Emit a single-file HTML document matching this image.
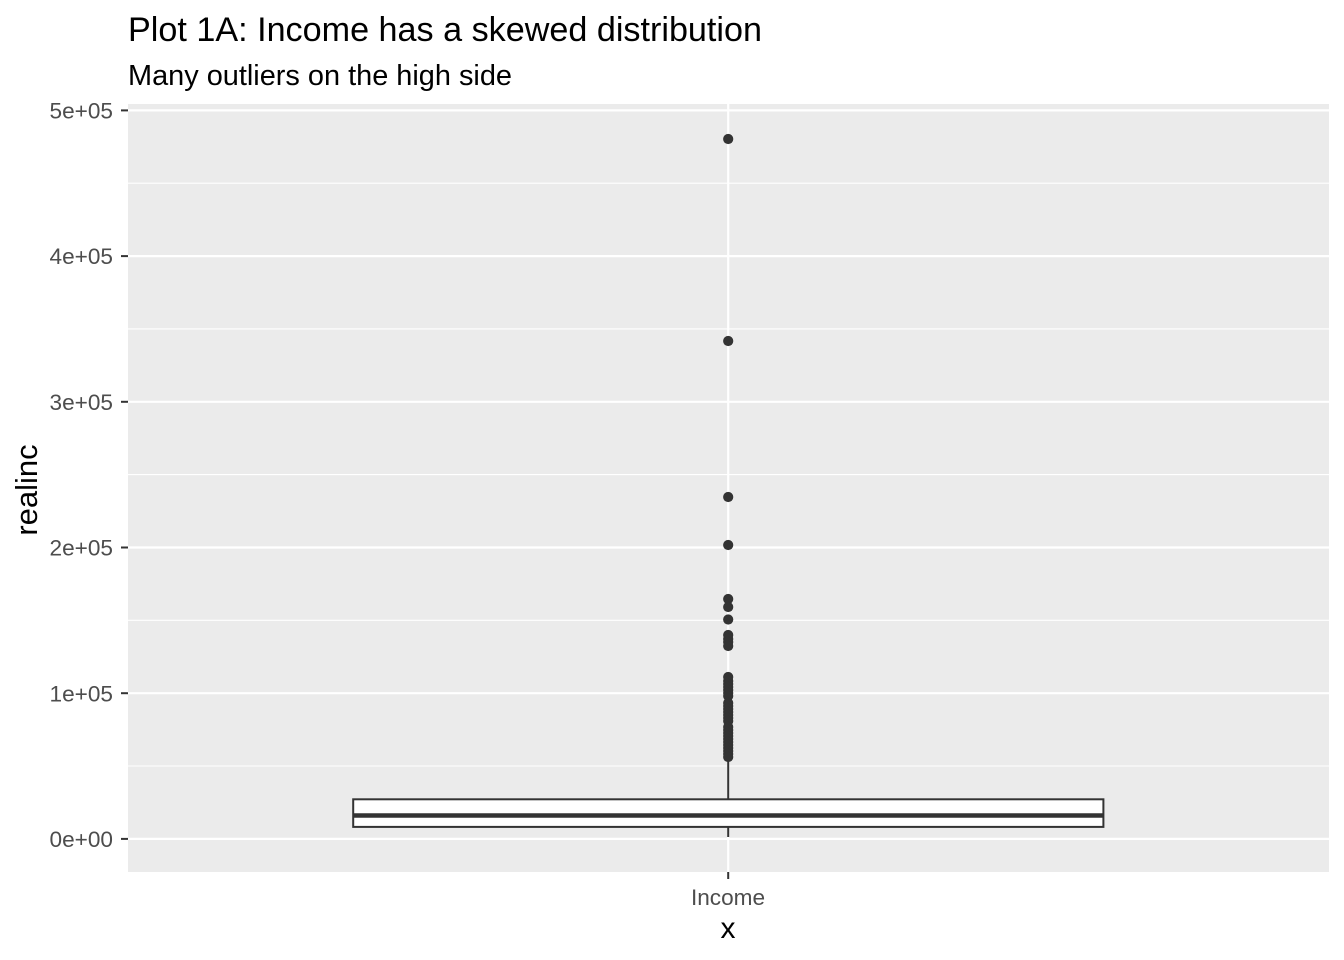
<!DOCTYPE html>
<html>
<head>
<meta charset="utf-8">
<style>
html,body{margin:0;padding:0;background:#fff;}
svg{display:block;}
text{font-family:"Liberation Sans",Arial,sans-serif;}
</style>
</head>
<body>
<svg width="1344" height="960" viewBox="0 0 1344 960" xmlns="http://www.w3.org/2000/svg">
  <rect x="0" y="0" width="1344" height="960" fill="#ffffff"/>
  <!-- titles -->
  <text x="128" y="41" font-size="34.3" fill="#000" textLength="634" lengthAdjust="spacingAndGlyphs">Plot 1A: Income has a skewed distribution</text>
  <text x="128" y="85" font-size="28.9" fill="#000" textLength="384" lengthAdjust="spacingAndGlyphs">Many outliers on the high side</text>

  <!-- panel -->
  <rect x="128" y="104" width="1201" height="768" fill="#EBEBEB"/>
  <!-- minor gridlines -->
  <g stroke="#ffffff" stroke-width="1.1">
    <line x1="128" x2="1329" y1="766" y2="766"/>
    <line x1="128" x2="1329" y1="620.3" y2="620.3"/>
    <line x1="128" x2="1329" y1="474.6" y2="474.6"/>
    <line x1="128" x2="1329" y1="328.9" y2="328.9"/>
    <line x1="128" x2="1329" y1="183.2" y2="183.2"/>
  </g>
  <!-- major gridlines -->
  <g stroke="#ffffff" stroke-width="2.2">
    <line x1="128" x2="1329" y1="838.9" y2="838.9"/>
    <line x1="128" x2="1329" y1="693.2" y2="693.2"/>
    <line x1="128" x2="1329" y1="547.5" y2="547.5"/>
    <line x1="128" x2="1329" y1="401.8" y2="401.8"/>
    <line x1="128" x2="1329" y1="256.1" y2="256.1"/>
    <line x1="128" x2="1329" y1="110.4" y2="110.4"/>
    <line x1="728.2" x2="728.2" y1="104" y2="872"/>
  </g>

  <!-- boxplot -->
  <g stroke="#333333" fill="none">
    <line x1="728.2" x2="728.2" y1="798.5" y2="757" stroke-width="2"/>
    <line x1="728.2" x2="728.2" y1="827" y2="837" stroke-width="2"/>
    <rect x="353.2" y="799.3" width="750.2" height="27.6" fill="#ffffff" stroke-width="2"/>
    <line x1="353.2" x2="1103.4" y1="815.5" y2="815.5" stroke-width="4.4"/>
  </g>
  <!-- outliers -->
  <g fill="#333333">
    <circle cx="728.2" cy="139" r="5.1"/>
    <circle cx="728.2" cy="341" r="5.1"/>
    <circle cx="728.2" cy="497" r="5.1"/>
    <circle cx="728.2" cy="545" r="5.1"/>
    <circle cx="728.2" cy="599" r="5.1"/>
    <circle cx="728.2" cy="607" r="5.1"/>
    <circle cx="728.2" cy="619.5" r="5.1"/>
    <circle cx="728.2" cy="635" r="5.1"/>
    <circle cx="728.2" cy="639" r="5.1"/>
    <circle cx="728.2" cy="642" r="5.1"/>
    <circle cx="728.2" cy="646" r="5.1"/>
    <circle cx="728.2" cy="677" r="5.1"/>
    <circle cx="728.2" cy="681" r="5.1"/>
    <circle cx="728.2" cy="684" r="5.1"/>
    <circle cx="728.2" cy="687" r="5.1"/>
    <circle cx="728.2" cy="690" r="5.1"/>
    <circle cx="728.2" cy="693" r="5.1"/>
    <circle cx="728.2" cy="696" r="5.1"/>
    <circle cx="728.2" cy="703" r="5.1"/>
    <circle cx="728.2" cy="706" r="5.1"/>
    <circle cx="728.2" cy="709" r="5.1"/>
    <circle cx="728.2" cy="712" r="5.1"/>
    <circle cx="728.2" cy="715" r="5.1"/>
    <circle cx="728.2" cy="718" r="5.1"/>
    <circle cx="728.2" cy="721" r="5.1"/>
    <circle cx="728.2" cy="727" r="5.1"/>
    <circle cx="728.2" cy="730" r="5.1"/>
    <circle cx="728.2" cy="733" r="5.1"/>
    <circle cx="728.2" cy="736" r="5.1"/>
    <circle cx="728.2" cy="739" r="5.1"/>
    <circle cx="728.2" cy="742" r="5.1"/>
    <circle cx="728.2" cy="745" r="5.1"/>
    <circle cx="728.2" cy="748" r="5.1"/>
    <circle cx="728.2" cy="751" r="5.1"/>
    <circle cx="728.2" cy="754" r="5.1"/>
    <circle cx="728.2" cy="757" r="5.1"/>
  </g>

  <!-- axis ticks -->
  <g stroke="#333333" stroke-width="2">
    <line x1="121" x2="128" y1="838.9" y2="838.9"/>
    <line x1="121" x2="128" y1="693.2" y2="693.2"/>
    <line x1="121" x2="128" y1="547.5" y2="547.5"/>
    <line x1="121" x2="128" y1="401.8" y2="401.8"/>
    <line x1="121" x2="128" y1="256.1" y2="256.1"/>
    <line x1="121" x2="128" y1="110.4" y2="110.4"/>
    <line x1="728.2" x2="728.2" y1="872" y2="879"/>
  </g>
  <!-- tick labels -->
  <g font-size="22.6" fill="#4D4D4D" text-anchor="end">
    <text x="113" y="847">0e+00</text>
    <text x="113" y="701.3">1e+05</text>
    <text x="113" y="555.6">2e+05</text>
    <text x="113" y="409.9">3e+05</text>
    <text x="113" y="264.2">4e+05</text>
    <text x="113" y="118.5">5e+05</text>
  </g>
  <text x="728" y="905" font-size="22.6" fill="#4D4D4D" text-anchor="middle">Income</text>

  <!-- axis titles -->
  <text x="728" y="938" font-size="30" fill="#000" text-anchor="middle">x</text>
  <text transform="translate(37,490) rotate(-90)" font-size="31" fill="#000" text-anchor="middle">realinc</text>
</svg>
</body>
</html>
